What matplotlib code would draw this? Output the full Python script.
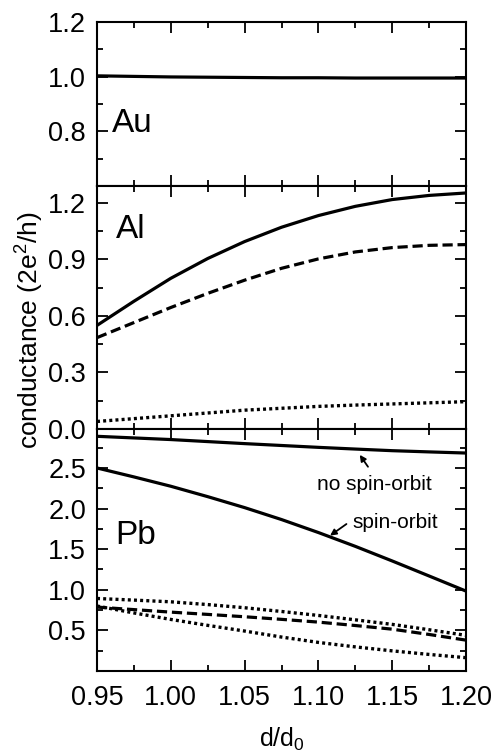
import numpy as np
import matplotlib
matplotlib.use('Agg')
import matplotlib.pyplot as plt
from matplotlib.ticker import MultipleLocator

plt.rcParams['font.family'] = ['Liberation Sans', 'DejaVu Sans']
plt.rcParams['mathtext.fontset'] = 'custom'
plt.rcParams['mathtext.rm'] = 'Liberation Sans'
plt.rcParams['mathtext.it'] = 'Liberation Sans'

# d/d0 grid
d = [0.95, 0.975, 1.00, 1.025, 1.05, 1.075, 1.10, 1.125, 1.15, 1.175, 1.20]

# Au
au_solid = [1.003, 1.001, 0.999, 0.998, 0.997, 0.996, 0.996, 0.995, 0.995, 0.995, 0.995]

# Al
al_solid = [0.55, 0.678, 0.80, 0.905, 0.995, 1.071, 1.133, 1.182, 1.218, 1.24, 1.253]
al_dashed = [0.485, 0.565, 0.645, 0.72, 0.79, 0.853, 0.903, 0.94, 0.963, 0.975, 0.979]
al_dotted = [0.04, 0.055, 0.07, 0.085, 0.10, 0.11, 0.12, 0.127, 0.133, 0.139, 0.145]

# Pb
pb_nso = [2.89, 2.87, 2.85, 2.825, 2.80, 2.777, 2.754, 2.733, 2.713, 2.698, 2.684]
pb_so = [2.50, 2.39, 2.275, 2.147, 2.012, 1.865, 1.705, 1.535, 1.355, 1.17, 0.984]
pb_dot1 = [0.893, 0.873, 0.852, 0.818, 0.779, 0.733, 0.684, 0.63, 0.574, 0.508, 0.439]
pb_dash = [0.787, 0.756, 0.725, 0.697, 0.668, 0.636, 0.602, 0.56, 0.515, 0.45, 0.38]
pb_dot2 = [0.80, 0.715, 0.635, 0.562, 0.492, 0.418, 0.352, 0.297, 0.248, 0.204, 0.164]

fig = plt.figure(figsize=(4.95, 7.53), dpi=100)
L, W = 97 / 495, (466 - 97) / 495
ax1 = fig.add_axes([L, 1 - 186 / 753, W, (186 - 22) / 753])
ax2 = fig.add_axes([L, 1 - 429 / 753, W, (429 - 186) / 753])
ax3 = fig.add_axes([L, 1 - 671 / 753, W, (671 - 429) / 753])

lw = 2.3
dash = (3.2, 1.5)
dot = (0.9, 0.95)
ax1.plot(d, au_solid, 'k-', lw=lw)

ax2.plot(d, al_solid, 'k-', lw=lw)
ax2.plot(d, al_dashed, 'k--', lw=lw, dashes=dash)
ax2.plot(d, al_dotted, 'k:', lw=2.4, dashes=dot)

ax3.plot(d, pb_nso, 'k-', lw=lw)
ax3.plot(d, pb_so, 'k-', lw=lw)
ax3.plot(d, pb_dot1, 'k:', lw=2.4, dashes=dot)
ax3.plot(d, pb_dash, 'k--', lw=lw, dashes=dash)
ax3.plot(d, pb_dot2, 'k:', lw=2.4, dashes=dot)

ax1.set_ylim(0.6, 1.2)
ax1.set_yticks([0.8, 1.0, 1.2])
ax1.yaxis.set_minor_locator(MultipleLocator(0.1))

ax2.set_ylim(0, 1.29)
ax2.set_yticks([0.0, 0.3, 0.6, 0.9, 1.2])
ax2.yaxis.set_minor_locator(MultipleLocator(0.15))

ax3.set_ylim(0, 2.98)
ax3.set_yticks([0.5, 1.0, 1.5, 2.0, 2.5])
ax3.yaxis.set_minor_locator(MultipleLocator(0.25))

for ax in (ax1, ax2, ax3):
    ax.set_xlim(0.95, 1.20)
    ax.xaxis.set_major_locator(MultipleLocator(0.05))
    ax.xaxis.set_minor_locator(MultipleLocator(0.025))
    ax.tick_params(which='both', direction='in', top=True, right=True,
                   width=1.3, labelsize=19.5)
    ax.tick_params(axis='y', pad=8)
    ax.tick_params(axis='x', pad=10)
    ax.tick_params(which='major', length=8)
    ax.tick_params(which='minor', length=4.5)
    for s in ax.spines.values():
        s.set_linewidth(1.5)
    ax.yaxis.set_major_formatter(plt.FormatStrFormatter('%.1f'))

ax1.tick_params(labelbottom=False)
ax2.tick_params(labelbottom=False)
ax3.xaxis.set_major_formatter(plt.FormatStrFormatter('%.2f'))

ax1.text(0.04, 0.38, 'Au', transform=ax1.transAxes, fontsize=24, va='center')
ax2.text(0.05, 0.82, 'Al', transform=ax2.transAxes, fontsize=24, va='center')
ax3.text(0.05, 0.56, 'Pb', transform=ax3.transAxes, fontsize=24, va='center')

arrow = dict(arrowstyle='-|>', color='k', lw=1.3, mutation_scale=9,
             shrinkA=0, shrinkB=0)
ax3.text(1.1377, 2.30, 'no spin-orbit', fontsize=15, ha='center', va='center')
ax3.annotate('', xy=(1.128, 2.662), xytext=(1.1336, 2.515), arrowprops=arrow)
ax3.text(1.152, 1.823, 'spin-orbit', fontsize=15, ha='center', va='center')
ax3.annotate('', xy=(1.1079, 1.667), xytext=(1.119, 1.81), arrowprops=arrow)

ax3.set_xlabel('d/d$_0$', fontsize=18)
ax3.xaxis.set_label_coords(0.5, -0.225)
fig.text(30 / 495, 1 - 330 / 753, 'conductance (2e$^2$/h)', rotation=90,
         fontsize=19, ha='center', va='center')

fig.savefig('out.png', dpi=100)
